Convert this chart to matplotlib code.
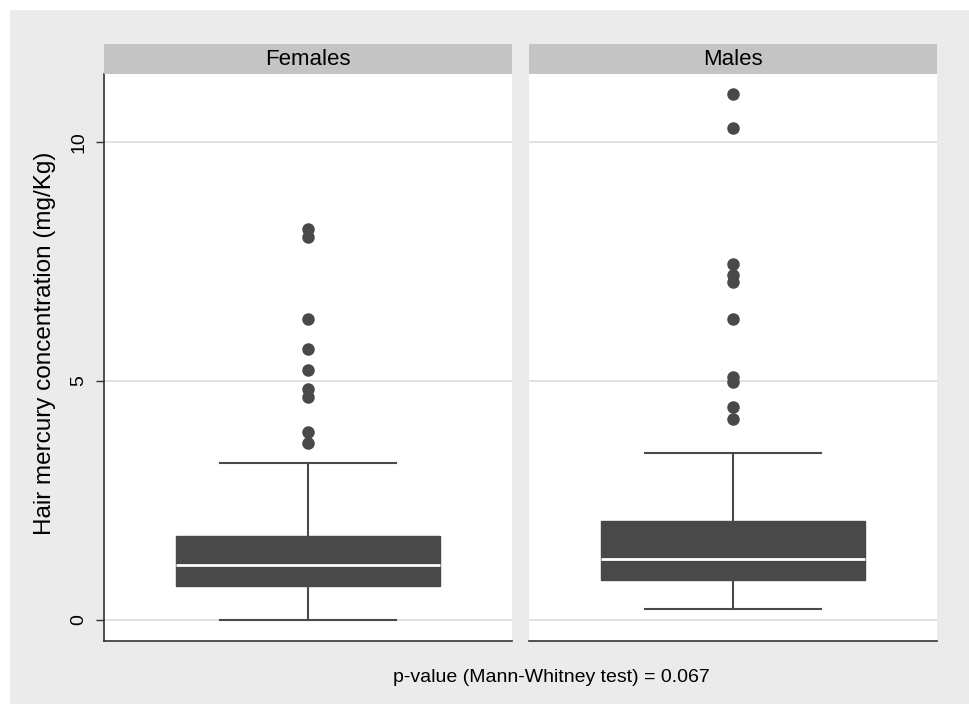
# Hair mercury by sex - Stata style box plots
import numpy as np
import matplotlib
matplotlib.use("Agg")
from matplotlib import pyplot as plt
from matplotlib.patches import Rectangle

plt.rcParams["font.family"] = ["Liberation Sans", "DejaVu Sans"]

groups = ["Females", "Males"]

# box summaries (mg/Kg)
q1 = [0.71, 0.84]
med = [1.15, 1.28]
q3 = [1.76, 2.06]
whislo = [0.0, 0.23]
whishi = [3.28, 3.49]

fem_out = [8.18, 8.01, 6.30, 5.67, 5.23, 4.83, 4.67, 3.93, 3.70]
male_out = [11.0, 10.30, 7.44, 7.22, 7.06, 6.29, 5.09, 4.97, 4.45, 4.20]
outliers = [fem_out, male_out]

yticks = [0, 5, 10]
pval_text = "p-value (Mann-Whitney test) = 0.067"
ylab = "Hair mercury concentration (mg/Kg)"

W, H = 969, 704
fig = plt.figure(figsize=(W / 100, H / 100), dpi=100)
fig.patch.set_facecolor("white")
# gray plot region, white margin only top and left
fig.patches.append(Rectangle((10 / W, 0), 1, 1 - 10 / H, transform=fig.transFigure,
                             facecolor="#ebebeb", edgecolor="none", zorder=-10))

dark = "#494949"
panel_left = [104, 529]
panel_w = 408
bot_px, top_px, strip_px = 641, 74, 44

for i, g in enumerate(groups):
    ax = fig.add_axes([panel_left[i] / W, 1 - bot_px / H, panel_w / W, (bot_px - top_px) / H])
    ax.set_facecolor("white")
    stats = [dict(med=med[i], q1=q1[i], q3=q3[i], whislo=whislo[i], whishi=whishi[i],
                  fliers=outliers[i], label=g)]
    ax.bxp(stats, positions=[0.5], widths=0.645, capwidths=0.43, patch_artist=True,
           boxprops=dict(facecolor=dark, edgecolor=dark, linewidth=1),
           medianprops=dict(color="white", linewidth=2),
           whiskerprops=dict(color=dark, linewidth=1.5),
           capprops=dict(color=dark, linewidth=1.5),
           flierprops=dict(marker="o", markerfacecolor=dark, markeredgecolor=dark, markersize=8))
    ax.set_xlim(0, 1)
    ax.set_ylim(-0.44, 11.42)
    ax.set_yticks(yticks)
    ax.grid(axis="y", color="#dedede", linewidth=1.3)
    ax.set_axisbelow(True)
    ax.set_xticks([])
    for s in ["top", "right"]:
        ax.spines[s].set_visible(False)
    ax.spines["bottom"].set_color("#333333")
    ax.spines["bottom"].set_linewidth(1.2)
    if i == 0:
        ax.spines["left"].set_color("#333333")
        ax.spines["left"].set_linewidth(1.2)
        ax.tick_params(axis="y", length=6, width=1, color="#333333", labelsize=14, pad=6)
        for lab in ax.get_yticklabels():
            lab.set_rotation(90)
            lab.set_va("center")
    else:
        ax.spines["left"].set_visible(False)
        ax.tick_params(axis="y", length=0, labelleft=False)

    # strip header
    sax = fig.add_axes([panel_left[i] / W, 1 - top_px / H, panel_w / W, (top_px - strip_px) / H])
    sax.set_facecolor("#c4c4c4")
    sax.set_xticks([])
    sax.set_yticks([])
    for s in sax.spines.values():
        s.set_visible(False)
    sax.text(0.5, 0.47, g, ha="center", va="center", fontsize=16, transform=sax.transAxes)

fig.text(45 / W, 1 - 343 / H, ylab, rotation=90, ha="center", va="center", fontsize=17.5)
fig.text(551 / W, 1 - 678 / H, pval_text, ha="center", va="center", fontsize=14)

fig.savefig("out.png", dpi=100)
